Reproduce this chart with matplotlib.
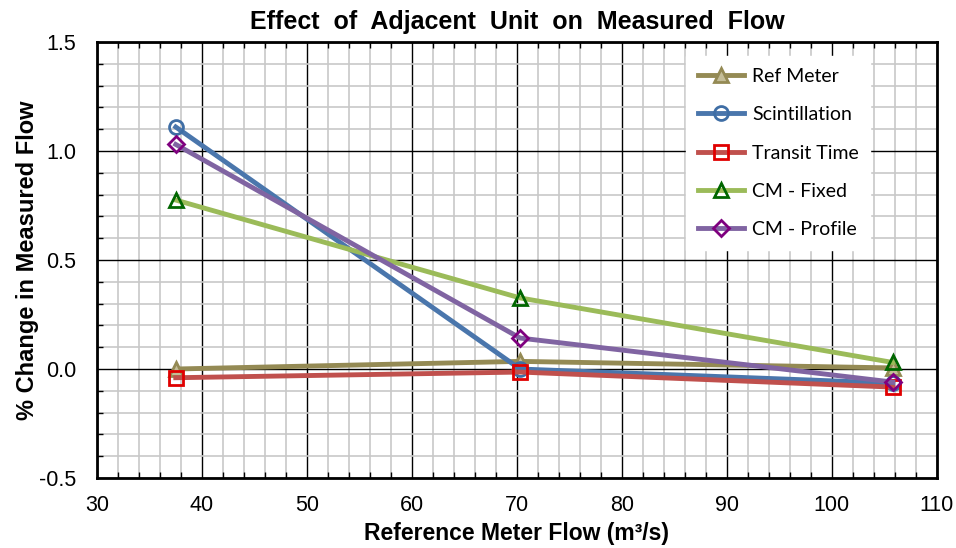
import matplotlib
matplotlib.use("Agg")
import matplotlib.pyplot as plt
from matplotlib.ticker import MultipleLocator

x_flow = [37.5, 70.3, 105.8]
ref_meter = [0.0, 0.035, 0.005]
scintillation = [1.11, 0.0, -0.065]
transit_time = [-0.04, -0.014, -0.083]
cm_fixed = [0.775, 0.326, 0.03]
cm_profile = [1.03, 0.142, -0.06]

series = [
    ("Ref Meter", ref_meter, "#948A54", "^", "#C4BD97", "#948A54"),
    ("Scintillation", scintillation, "#4A76AC", "o", "none", "#3F6EA5"),
    ("Transit Time", transit_time, "#C0504D", "s", "none", "#E00000"),
    ("CM - Fixed", cm_fixed, "#9BBB59", "^", "none", "#006600"),
    ("CM - Profile", cm_profile, "#8064A2", "D", "none", "#7F007F"),
]

plt.rcParams['font.family'] = ['Liberation Sans', 'DejaVu Sans']

fig = plt.figure(figsize=(9.56, 5.48), dpi=100)
ax = fig.add_axes([0.1015, 0.1277, 0.8785, 0.7957])

for name, vals, lc, m, mf, me in series:
    ms = 10 if m != "D" else 8
    ax.plot(x_flow, vals, color=lc, lw=3.5, marker=m, markersize=ms,
            markerfacecolor=mf, markeredgecolor=me, markeredgewidth=2,
            label=name, zorder=3)

ax.set_xlim(30, 110)
ax.set_ylim(-0.5, 1.5)
ax.xaxis.set_major_locator(MultipleLocator(10))
ax.xaxis.set_minor_locator(MultipleLocator(2))
ax.yaxis.set_major_locator(MultipleLocator(0.5))
ax.yaxis.set_minor_locator(MultipleLocator(0.1))
ax.set_yticks([-0.5, 0.0, 0.5, 1.0, 1.5])
ax.set_yticklabels(["-0.5", "0.0", "0.5", "1.0", "1.5"])

ax.grid(which='minor', color='#C8C8C8', lw=1.2, zorder=0)
ax.grid(which='major', color='black', lw=1.0, zorder=1)
ax.set_axisbelow(True)

ax.tick_params(which='both', direction='in', top=True, right=False,
               length=4, width=1)
ax.tick_params(which='major', length=0)
ax.tick_params(axis='x', which='major', labelsize=15.5, pad=12)
ax.tick_params(axis='y', which='major', labelsize=15.5, pad=15)
for s in ax.spines.values():
    s.set_linewidth(2)
    s.set_color('black')

ax.set_title("Effect  of  Adjacent  Unit  on  Measured  Flow", fontsize=18,
             fontweight='bold', pad=9)
ax.set_xlabel("Reference Meter Flow (m³/s)", fontsize=16.5, fontweight='bold')
ax.set_ylabel("% Change in Measured Flow", fontsize=17, fontweight='bold')
ax.xaxis.set_label_coords(0.5, -0.1)
ax.yaxis.set_label_coords(-0.069, 0.5)

leg = ax.legend(loc='upper right', bbox_to_anchor=(0.9325, 0.99), frameon=True,
                fancybox=False, edgecolor='white', framealpha=1,
                prop={'family': 'Lato', 'size': 14}, labelspacing=1.1,
                handlelength=2.4, borderpad=0.6, handletextpad=0.4)

fig.savefig("out.png", dpi=100)
